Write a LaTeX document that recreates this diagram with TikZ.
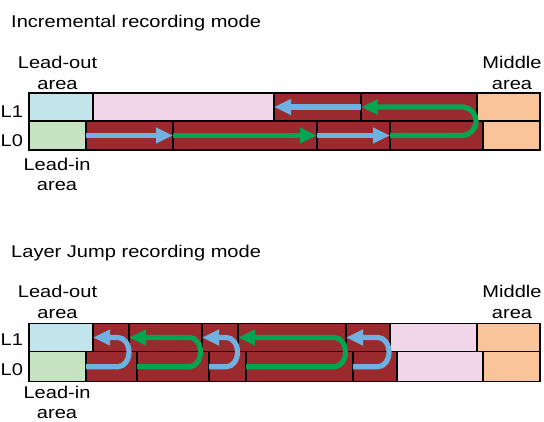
\documentclass[tikz,border=0pt]{standalone}
\usepackage{fontspec}
\setmainfont{Liberation Sans}
\usetikzlibrary{arrows.meta}

\definecolor{trackred}{HTML}{9B2A2E}
\definecolor{leadoutblue}{HTML}{C2E5EC}
\definecolor{leadingreen}{HTML}{C5E3C1}
\definecolor{emptypink}{HTML}{F0D6E8}
\definecolor{middleorange}{HTML}{F9C49A}
\definecolor{flowblueclr}{HTML}{6FB1E1}
\definecolor{flowgreenclr}{HTML}{00A551}

% one cell of a recording layer: name, x-left, x-right, y-top, y-bottom, fill
\newcommand\layercell[6]{%
  \node[cellbox,fill=#6,minimum width={#3-#2},minimum height={#5-#4}]
    (#1) at ({(#2+#3)/2},{(#4+#5)/2}) {};}

\begin{document}
\begin{tikzpicture}[x=1pt,y=-1pt,
  cellbox/.style={draw=black,line width=1.5pt,inner sep=0pt,outer sep=0pt},
  lbl/.style={font=\fontsize{17}{20.7}\selectfont,xscale=1.18,inner sep=0pt,align=center},
  flowtip/.style={-{Triangle[length=17pt,width=15pt]},line width=5.2pt,line cap=butt},
  flowblue/.style={flowtip,draw=flowblueclr},
  flowgreen/.style={flowtip,draw=flowgreenclr}]
\useasboundingbox (0,0) rectangle (544,421);

% ---------------- Incremental recording mode ----------------
\node[lbl,anchor=base west] (titleinc) at (11,27.3) {Incremental recording mode};

% layer L1
\layercell{ib1}{29}{93}{93}{121}{leadoutblue}
\layercell{ip1}{93}{274}{93}{121}{emptypink}
\layercell{ir1a}{274}{361}{93}{121}{trackred}
\layercell{ir1b}{361}{477}{93}{121}{trackred}
\layercell{io1}{477}{540}{93}{121}{middleorange}
% layer L0
\layercell{ig0}{29}{86}{121}{150}{leadingreen}
\layercell{ir0a}{86}{173}{121}{150}{trackred}
\layercell{ir0b}{173}{317}{121}{150}{trackred}
\layercell{ir0c}{317}{390}{121}{150}{trackred}
\layercell{ir0d}{390}{483}{121}{150}{trackred}
\layercell{io0}{483}{540}{121}{150}{middleorange}

\node[lbl,anchor=north] (ileadout) at (57.5,56) {Lead-out\\area};
\node[lbl,anchor=north] (ileadin) at (57,157.5) {Lead-in\\area};
\node[lbl,anchor=north] (imiddle) at (512,56) {Middle\\area};
\node[lbl,anchor=base west] (il1) at (0.5,117) {L1};
\node[lbl,anchor=base west] (il0) at (0.5,146.5) {L0};

\draw[flowblue] (ir0a.west) -- (ir0b.west);
\draw[flowgreen] (ir0b.west) -- (ir0c.west);
\draw[flowblue] (ir0c.west) -- (ir0d.west);
\draw[flowgreen] (ir0d.west) -- ++(71.5,0)
  arc[start angle=-90,end angle=90,x radius=14.5pt,y radius=14.3pt] -- (ir1b.west);
\draw[flowblue] (ir1b.west) -- (ir1a.west);

% ---------------- Layer Jump recording mode ----------------
\node[lbl,anchor=base west] (titlejump) at (11,257.3) {Layer Jump recording mode};

% layer L1
\layercell{jb1}{29}{93}{323.3}{351.7}{leadoutblue}
\layercell{jr1a}{93}{129}{323.3}{351.7}{trackred}
\layercell{jr1b}{129}{202}{323.3}{351.7}{trackred}
\layercell{jr1c}{202}{238}{323.3}{351.7}{trackred}
\layercell{jr1d}{238}{346}{323.3}{351.7}{trackred}
\layercell{jr1e}{346}{390}{323.3}{351.7}{trackred}
\layercell{jp1}{390}{477}{323.3}{351.7}{emptypink}
\layercell{jo1}{477}{540}{323.3}{351.7}{middleorange}
% layer L0
\layercell{jg0}{29}{86}{351.7}{381.7}{leadingreen}
\layercell{jr0a}{86}{137}{351.7}{381.7}{trackred}
\layercell{jr0b}{137}{209}{351.7}{381.7}{trackred}
\layercell{jr0c}{209}{246}{351.7}{381.7}{trackred}
\layercell{jr0d}{246}{353}{351.7}{381.7}{trackred}
\layercell{jr0e}{353}{397}{351.7}{381.7}{trackred}
\layercell{jp0}{397}{483}{351.7}{381.7}{emptypink}
\layercell{jo0}{483}{540}{351.7}{381.7}{middleorange}

\node[lbl,anchor=north] (jleadout) at (57.5,285) {Lead-out\\area};
\node[lbl,anchor=north] (jleadin) at (57,385.5) {Lead-in\\area};
\node[lbl,anchor=north] (jmiddle) at (512,285.3) {Middle\\area};
\node[lbl,anchor=base west] (jl1) at (0.5,345.7) {L1};
\node[lbl,anchor=base west] (jl0) at (0.5,375.7) {L0};

\draw[flowblue] (jr0a.west) -- ++(32,0)
  arc[start angle=-90,end angle=90,x radius=11pt,y radius=14.6pt] -- (jr1a.west);
\draw[flowgreen] (jr0b.west) -- ++(52.5,0)
  arc[start angle=-90,end angle=90,x radius=11pt,y radius=14.6pt] -- (jr1b.west);
\draw[flowblue] (jr0c.west) -- ++(17.5,0)
  arc[start angle=-90,end angle=90,x radius=11pt,y radius=14.6pt] -- (jr1c.west);
\draw[flowgreen] (jr0d.west) -- ++(88.5,0)
  arc[start angle=-90,end angle=90,x radius=11pt,y radius=14.6pt] -- (jr1d.west);
\draw[flowblue] (jr0e.west) -- ++(25,0)
  arc[start angle=-90,end angle=90,x radius=11pt,y radius=14.6pt] -- (jr1e.west);
\end{tikzpicture}
\end{document}
